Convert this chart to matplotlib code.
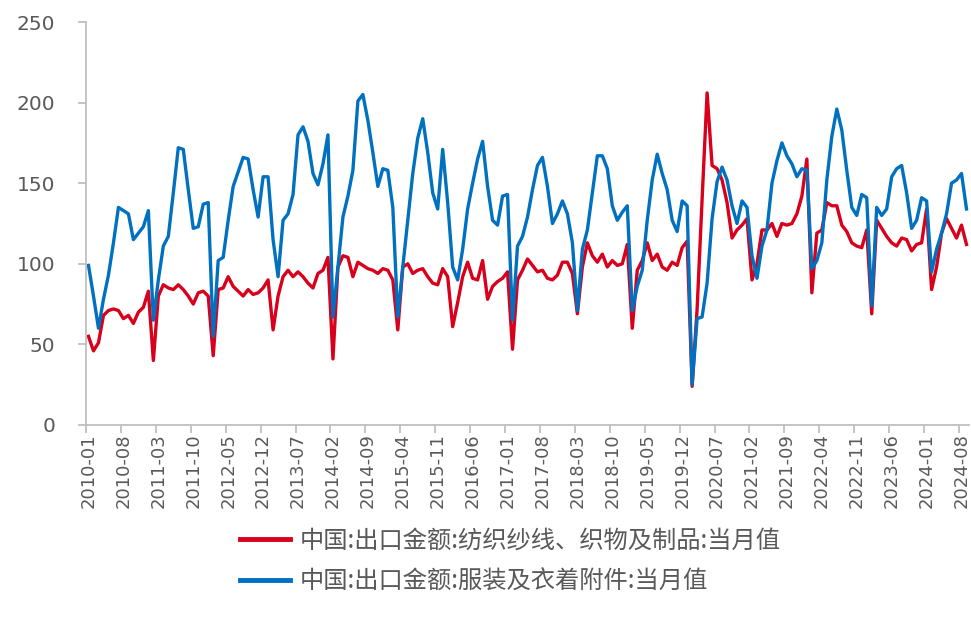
import matplotlib
matplotlib.use("Agg")
import matplotlib.pyplot as plt
import numpy as np
import pandas as pd

plt.rcParams['font.family'] = ['Noto Sans CJK SC', 'DejaVu Sans']

months = list(pd.period_range('2010-01', periods=177, freq='M').strftime('%Y-%m'))

textile = [55, 46, 51, 68, 71, 72, 71, 66, 68, 63, 70, 73,
           83, 40, 80, 87, 85, 84, 87, 84, 80, 75, 82, 83,
           80, 43, 84, 85, 92, 86, 83, 80, 84, 81, 82, 85,
           90, 59, 80, 92, 96, 92, 95, 92, 88, 85, 94, 96,
           104, 41, 98, 105, 104, 92, 101, 99, 97, 96, 94, 97,
           96, 90, 59, 98, 100, 94, 96, 97, 92, 88, 87, 97,
           92, 61, 76, 92, 101, 91, 90, 102, 78, 86, 89, 91,
           95, 47, 90, 96, 103, 99, 95, 96, 91, 90, 93, 101,
           101, 94, 69, 98, 113, 105, 101, 106, 98, 102, 99, 100,
           112, 60, 96, 102, 113, 102, 106, 98, 96, 101, 99, 110,
           114, 24, 72, 140, 206, 161, 159, 152, 138, 116, 121, 124,
           128, 90, 100, 121, 121, 125, 117, 125, 124, 125, 131, 142,
           165, 82, 119, 121, 138, 136, 136, 124, 120, 113, 111, 110,
           121, 69, 127, 122, 117, 113, 111, 116, 115, 108, 112, 113,
           134, 84, 98, 119, 128, 122, 116, 124, 112]

apparel = [99, 80, 60, 78, 93, 113, 135, 133, 131, 115, 119, 123,
           133, 65, 90, 111, 117, 144, 172, 171, 146, 122, 123, 137,
           138, 55, 102, 104, 127, 148, 157, 166, 165, 146, 129, 154,
           154, 115, 92, 127, 131, 143, 180, 185, 176, 156, 149, 162,
           180, 67, 98, 129, 142, 158, 201, 205, 189, 169, 148, 159,
           158, 135, 67, 98, 127, 156, 178, 190, 169, 144, 134, 171,
           138, 98, 90, 109, 134, 150, 165, 176, 148, 127, 124, 142,
           143, 65, 111, 117, 129, 146, 161, 166, 148, 125, 131, 139,
           131, 113, 71, 109, 121, 144, 167, 167, 159, 136, 127, 132,
           136, 71, 86, 96, 127, 152, 168, 156, 146, 127, 120, 139,
           136, 25, 66, 67, 88, 128, 151, 160, 152, 136, 125, 139,
           135, 105, 91, 111, 121, 150, 164, 175, 167, 162, 154, 159,
           158, 97, 102, 113, 152, 179, 196, 183, 158, 135, 130, 143,
           141, 74, 135, 130, 134, 154, 159, 161, 144, 122, 127, 141,
           139, 95, 109, 119, 131, 150, 152, 156, 134]

series_labels = ['中国:出口金额:纺织纱线、织物及制品:当月值',
                 '中国:出口金额:服装及衣着附件:当月值']
y_ticks = [0, 50, 100, 150, 200, 250]

fig = plt.figure(figsize=(9.71, 6.19), dpi=100)
ax = fig.add_axes([86/971, 1-425/619, (969-86)/971, (425-22)/619])

x = np.arange(len(months))
l1, = ax.plot(x, textile, color='#D9001B', lw=2.4, solid_joinstyle='round')
l2, = ax.plot(x, apparel, color='#0070C0', lw=2.4, solid_joinstyle='round')

ax.set_xlim(-0.5, len(months) - 0.5)
ax.set_ylim(0, 250)
ax.set_yticks(y_ticks)
ax.set_yticklabels([str(v) for v in y_ticks], family='DejaVu Sans', fontsize=14.5, color='#595959')

lab_idx = list(range(0, len(months), 7))
ax.set_xticks(lab_idx)
ax.set_xticklabels([months[i] for i in lab_idx], rotation=90, family='DejaVu Sans',
                   fontsize=13, color='#595959')
ax.tick_params(axis='x', which='major', length=0, pad=6)
ax.set_xticks([i - 0.5 for i in lab_idx], minor=True)
ax.tick_params(axis='x', which='minor', length=6, width=1.3, color='#BFBFBF')
ax.tick_params(axis='y', length=6, width=1.3, color='#BFBFBF', pad=16)

for s in ['top', 'right']:
    ax.spines[s].set_visible(False)
for s in ['left', 'bottom']:
    ax.spines[s].set_color('#BFBFBF')
    ax.spines[s].set_linewidth(1.3)

leg = fig.legend([l1, l2], series_labels, loc='center left', bbox_to_anchor=(240/971, 1-561/619),
                 frameon=False, fontsize=17.5, handlelength=2.05, handletextpad=0.4,
                 labelspacing=0.6, borderpad=0, borderaxespad=0, labelcolor='#595959')
for h in leg.legend_handles:
    h.set_linewidth(3.5)

fig.savefig('out.png', dpi=100)
